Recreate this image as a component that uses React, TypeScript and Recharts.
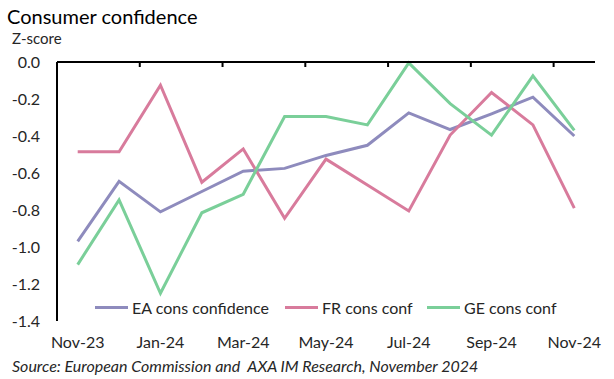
import React from 'react';
import { LineChart, Line, XAxis, YAxis, Legend } from 'recharts';

const months = ['Nov-23', 'Dec-23', 'Jan-24', 'Feb-24', 'Mar-24', 'Apr-24', 'May-24', 'Jun-24', 'Jul-24', 'Aug-24', 'Sep-24', 'Oct-24', 'Nov-24'];
const eaConsConfidence = [-0.97, -0.645, -0.81, -0.70, -0.59, -0.575, -0.505, -0.45, -0.275, -0.365, -0.28, -0.19, -0.40];
const frConsConf = [-0.485, -0.485, -0.125, -0.65, -0.47, -0.845, -0.525, -0.665, -0.805, -0.395, -0.165, -0.34, -0.79];
const geConsConf = [-1.095, -0.745, -1.25, -0.815, -0.715, -0.295, -0.295, -0.34, -0.005, -0.225, -0.395, -0.075, -0.37];
const yTicks = [0, -0.2, -0.4, -0.6, -0.8, -1.0, -1.2, -1.4];
const xLabelTicks = [0, 2, 4, 6, 8, 10, 12];
const xBoundaryTicks = [1.5, 3.5, 5.5, 7.5, 9.5, 11.5];

const data = months.map((m, i) => ({
  idx: i,
  month: m,
  ea: eaConsConfidence[i],
  fr: frConsConf[i],
  ge: geConsConf[i],
}));

const FONT = 'Lato, "Open Sans", sans-serif';
const TEXT = '#262626';
const legendWidths = [190, 142, 140];

const renderLegend = (props: any) => {
  const payload = props.payload || [];
  return (
    <div style={{ display: 'flex', fontFamily: FONT, fontSize: 16, color: TEXT, whiteSpace: 'nowrap' }}>
      {payload.map((p: any, i: number) => (
        <div key={i} style={{ width: legendWidths[i], display: 'flex', alignItems: 'center' }}>
          <span style={{ display: 'inline-block', width: 33, height: 3, background: p.color, marginRight: 4 }} />
          <span>{p.value}</span>
        </div>
      ))}
    </div>
  );
};

export default function App() {
  return (
    <div style={{ position: 'absolute', left: 0, top: 0, width: 614, height: 379, background: '#fff', fontFamily: FONT }}>
      <div style={{ position: 'absolute', left: 7, top: 6, fontSize: 20, lineHeight: '20px', color: '#000' }}>Consumer confidence</div>
      <div style={{ position: 'absolute', left: 12, top: 31, fontSize: 15, lineHeight: '15px', color: TEXT }}>Z-score</div>
      <div style={{ position: 'absolute', left: 12, top: 358, fontSize: 16, lineHeight: '16px', color: TEXT, fontStyle: 'italic', whiteSpace: 'pre' }}>
        Source: European Commission and  AXA IM Research, November 2024
      </div>
      <div style={{ position: 'absolute', left: 0, top: 0 }}>
        <LineChart width={614} height={379} data={data} margin={{ top: 61, right: 19, bottom: 28, left: 0 }}>
          <XAxis
            dataKey="idx"
            type="number"
            domain={[-0.5, 12.5]}
            ticks={xLabelTicks}
            tickFormatter={(v: number) => months[v]}
            axisLine={false}
            tickLine={false}
            tickMargin={10}
            height={30}
            interval={0}
            tick={{ fill: TEXT, fontSize: 16, fontFamily: FONT }}
          />
          <XAxis
            xAxisId="top"
            dataKey="idx"
            type="number"
            orientation="top"
            domain={[-0.5, 12.5]}
            ticks={xBoundaryTicks}
            tickFormatter={() => ''}
            tickSize={-5}
            tickMargin={0}
            interval={0}
            axisLine={{ stroke: '#000', strokeWidth: 2 }}
            tickLine={{ stroke: '#000', strokeWidth: 2 }}
            height={1}
          />
          <YAxis
            domain={[-1.4, 0]}
            ticks={yTicks}
            interval={0}
            width={57}
            tickFormatter={(v: number) => v.toFixed(1)}
            axisLine={{ stroke: '#000', strokeWidth: 2 }}
            tickLine={false}
            tickMargin={11}
            tick={{ fill: TEXT, fontSize: 16, fontFamily: FONT }}
          />
          <Legend
            content={renderLegend}
            layout="vertical"
            verticalAlign="middle"
            align="center"
            wrapperStyle={{ position: 'absolute', left: 95, top: 298, width: 'auto', height: 'auto' }}
          />
          <Line dataKey="ea" name="EA cons confidence" stroke="#8E8BBD" strokeWidth={3} dot={false} isAnimationActive={false} />
          <Line dataKey="fr" name="FR cons conf" stroke="#D87B9C" strokeWidth={3} dot={false} isAnimationActive={false} />
          <Line dataKey="ge" name="GE cons conf" stroke="#7ACF99" strokeWidth={3} dot={false} isAnimationActive={false} />
        </LineChart>
      </div>
    </div>
  );
}
